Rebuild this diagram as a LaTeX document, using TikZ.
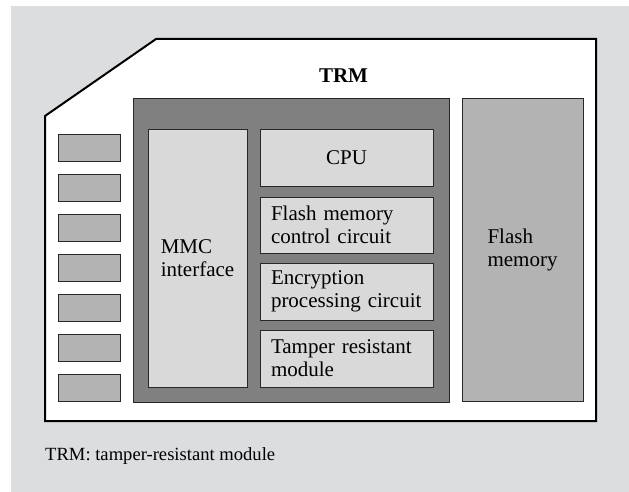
\documentclass[tikz,border=0pt]{standalone}
\usepackage{fontspec}
\setmainfont{Liberation Serif}
\definecolor{bggray}{RGB}{220,221,223}
\definecolor{darkfill}{RGB}{128,128,128}
\definecolor{lightfill}{RGB}{217,217,217}
\definecolor{midfill}{RGB}{179,179,179}
\definecolor{edge}{RGB}{40,40,40}
\tikzset{
  boxbase/.style={draw=edge, line width=0.9pt, inner sep=0pt, font=\fontsize{21}{23}\selectfont},
  darkbox/.style={boxbase, fill=darkfill},
  lightbox/.style={boxbase, fill=lightfill},
  midbox/.style={boxbase, fill=midfill},
  leftbox/.style={lightbox, align=left, text width=151pt, inner xsep=11pt, minimum width=173pt},
  pinbox/.style={midbox, minimum width=62pt, minimum height=27pt},
}
\begin{document}
\begin{tikzpicture}[x=1pt,y=-1pt]
\useasboundingbox (0,0) rectangle (629,492);
\fill[white] (0,0) rectangle (629,492);
\fill[bggray] (11,6) rectangle (629,492);
% card outline
\draw[line width=2pt, fill=white, line join=miter] (45,116) -- (156,39) -- (596,39) -- (596,421) -- (45,421) -- cycle;
\node[font=\fontsize{21}{23}\selectfont\bfseries, anchor=base, inner sep=0pt] (trm) at (343.5,83) {TRM};
% TRM block
\node[darkbox, minimum width=316pt, minimum height=304pt] (trmbox) at (291,250) {};
\node[lightbox, align=left, minimum width=99pt, minimum height=258pt] (mmc) at (197.5,258) {MMC\\interface};
\node[lightbox, minimum width=173pt, minimum height=57pt] (cpu) at (346.5,157.5) {CPU};
\node[leftbox, minimum height=56pt] (fmc) at (346.5,225) {Flash memory\\control circuit};
\node[leftbox, minimum height=57pt] (enc) at (346.5,291.5) {Encryption\\processing circuit};
\node[leftbox, minimum height=57pt] (tamp) at (346.5,358.5) {Tamper resistant\\module};
% flash memory
\node[midbox, align=left, minimum width=121pt, minimum height=303pt] (flash) at (522.5,249.5) {Flash\\memory};
% pins
\foreach \i in {0,...,6} {
  \node[pinbox] (pin\i) at (89,147.5+40*\i) {};
}
% caption
\node[anchor=base west, inner sep=0pt, font=\fontsize{18.6}{22}\selectfont] (caption) at (45,460) {TRM: tamper-resistant module};
\end{tikzpicture}
\end{document}
